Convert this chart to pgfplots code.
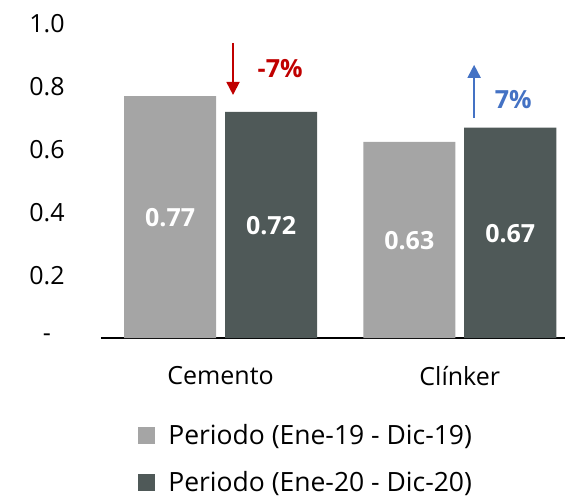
\documentclass[border=0pt]{standalone}
\usepackage{pgfplots}
\pgfplotsset{compat=1.18}
\usepackage{fontspec}
\setmainfont{Open Sans}
\usetikzlibrary{arrows.meta}
\definecolor{lgray}{HTML}{A5A5A5}
\definecolor{dgray}{HTML}{4F5958}
\definecolor{redc}{HTML}{C00000}
\definecolor{bluec}{HTML}{4472C4}
\begin{document}
\begin{tikzpicture}[font=\fontsize{25bp}{30bp}\selectfont]
\path[use as bounding box] (-101bp,-160bp) rectangle (464bp,338bp);
\begin{axis}[
  at={(0,0)}, anchor=south west,
  scale only axis, width=464bp, height=314bp,
  xmin=-0.5, xmax=1.44, ymin=0, ymax=1,
  axis x line=bottom, axis y line=left,
  x axis line style={-, black, line width=1.2bp},
  y axis line style={draw=none},
  major tick length=0pt,
  xtick={0,1}, xticklabels={Cemento, Clínker},
  ytick={0,0.2,0.4,0.6,0.8,1.0},
  yticklabels={-,0.2,0.4,0.6,0.8,1.0},
  yticklabel style={anchor=center, inner sep=0pt, xshift=-54bp},
  xticklabel style={anchor=center, inner sep=0pt, yshift=-38bp},
  ybar, bar width=0.385,
  legend style={draw=none, fill=none, at={(rel axis cs:0.08,-0.272)}, anchor=north west,
    inner sep=0pt, row sep=23bp, legend cell align=left,
    font=\fontsize{26.5bp}{31bp}\selectfont,
    nodes={inner xsep=13bp, inner ysep=1bp}},
  legend image code/.code={\fill[#1] (0bp,-8.5bp) rectangle (17bp,8.5bp);},
]
\addplot[fill=lgray, draw=none, bar shift=-0.211] coordinates {(0,0.77) (1,0.625)};
\addplot[fill=dgray, draw=none, bar shift=0.211] coordinates {(0,0.72) (1,0.67)};
\legend{Periodo (Ene-19 - Dic-19), Periodo (Ene-20 - Dic-20)}
\node[white, font=\fontsize{25bp}{30bp}\selectfont\bfseries] at (axis cs:-0.211,0.382) {0.77};
\node[white, font=\fontsize{25bp}{30bp}\selectfont\bfseries] at (axis cs:0.211,0.357) {0.72};
\node[white, font=\fontsize{25bp}{30bp}\selectfont\bfseries] at (axis cs:0.789,0.309) {0.63};
\node[white, font=\fontsize{25bp}{30bp}\selectfont\bfseries] at (axis cs:1.211,0.334) {0.67};
\draw[redc, line width=1.8bp, -{Triangle[length=13bp,width=13bp]}] (axis cs:0.052,0.94) -- (axis cs:0.052,0.774);
\draw[bluec, line width=1.8bp, -{Triangle[length=13bp,width=13bp]}] (axis cs:1.06,0.70) -- (axis cs:1.06,0.87);
\node[redc, font=\fontsize{25bp}{30bp}\selectfont\bfseries] at (axis cs:0.249,0.857) {-7\%};
\node[bluec, font=\fontsize{25bp}{30bp}\selectfont\bfseries] at (axis cs:1.224,0.758) {7\%};
\end{axis}
\end{tikzpicture}
\end{document}
